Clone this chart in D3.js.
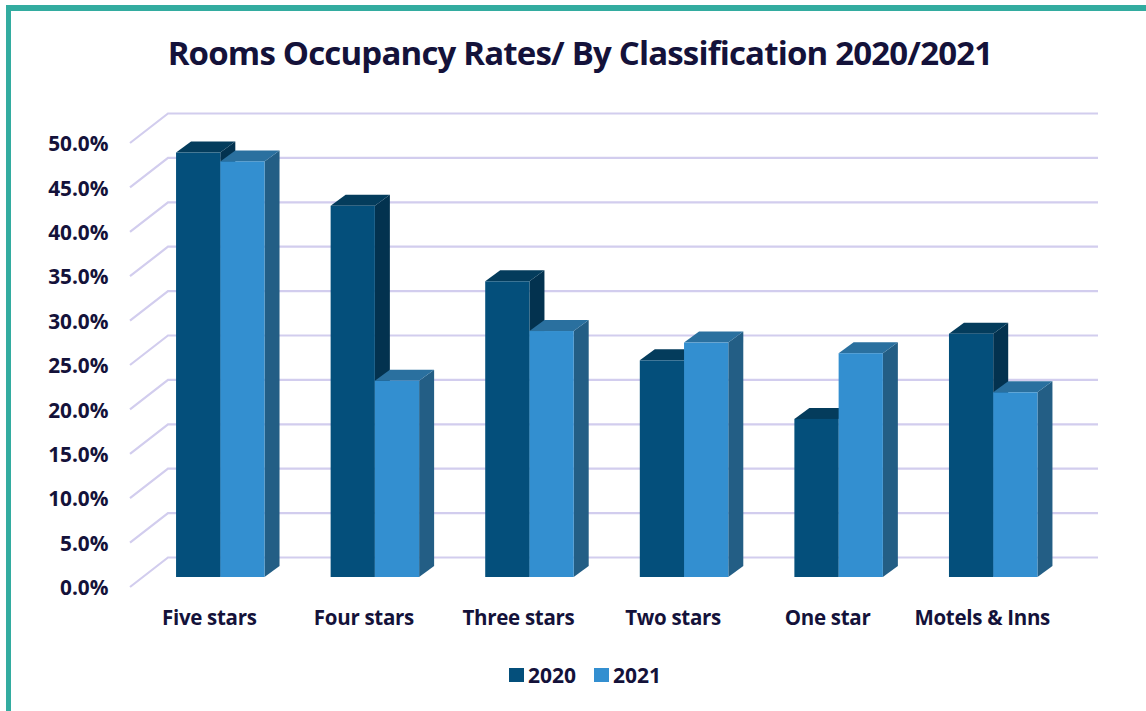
<!DOCTYPE html>
<html>
<head>
<meta charset="utf-8">
<script src="https://cdn.jsdelivr.net/npm/d3@7"></script>
<style>
  html, body { margin: 0; padding: 0; background: #fff; overflow: hidden; }
  text { font-family: "Open Sans", sans-serif; font-weight: 700; fill: #14123a; }
</style>
</head>
<body>
<div id="chart"></div>
<script>
const categories = ['Five stars', 'Four stars', 'Three stars', 'Two stars', 'One star', 'Motels & Inns']
const years = ['2020', '2021']
const values2020 = [47.8, 41.8, 33.3, 24.4, 17.8, 27.4]
const values2021 = [46.8, 22.1, 27.7, 26.4, 25.2, 20.8]
const yTicks = [0, 5, 10, 15, 20, 25, 30, 35, 40, 45, 50]

const width = 1146
const height = 711

const svg = d3
  .select('#chart')
  .append('svg')
  .attr('width', width)
  .attr('height', height)

// teal frame, top and left edges only
svg.append('rect').attr('x', 6).attr('y', 5).attr('width', width - 6).attr('height', 6).attr('fill', '#33aca0')
svg.append('rect').attr('x', 6).attr('y', 5).attr('width', 5).attr('height', height - 5).attr('fill', '#33aca0')

svg
  .append('text')
  .attr('x', 580)
  .attr('y', 65)
  .attr('text-anchor', 'middle')
  .style('font-size', '33px')
  .style('letter-spacing', '-0.82px')
  .text('Rooms Occupancy Rates/ By Classification 2020/2021')

const yPositionScale = d3.scaleLinear().domain([0, 50]).range([587, 143])
const xPositionScale = d3
  .scaleBand()
  .domain(categories)
  .range([143, 1070.5])
  .paddingInner(0.4276)
  .paddingOuter(0.2138)
const seriesScale = d3.scaleBand().domain(years).range([0, xPositionScale.bandwidth()])

// 3d offsets: wall behind the floor, bars in the middle of it
const wallDx = 38
const wallDy = -29.5
const barBaseDy = -10
const depthX = 15
const depthY = -11

const wallLeft = 130 + wallDx
const wallRight = 1098

const grid = svg.append('g').attr('class', 'grid')
grid
  .selectAll('path')
  .data(yTicks)
  .enter()
  .append('path')
  .attr('fill', 'none')
  .attr('stroke', '#d2cdee')
  .attr('stroke-width', 2.2)
  .attr('d', d => {
    const y = yPositionScale(d)
    return `M130,${y}L${wallLeft},${y + wallDy}L${wallRight},${y + wallDy}`
  })

const yAxis = d3
  .axisLeft(yPositionScale)
  .tickValues(yTicks)
  .tickFormat(d => d.toFixed(1) + '%')
  .tickSize(0)
  .tickPadding(0)

svg
  .append('g')
  .attr('class', 'axis y-axis')
  .attr('transform', 'translate(108.5,1)')
  .call(yAxis)
  .call(g => g.select('.domain').remove())
  .selectAll('text')
  .style('font-size', '20.8px')

const xAxis = d3.axisBottom(xPositionScale).tickSize(0).tickPadding(0)

svg
  .append('g')
  .attr('class', 'axis x-axis')
  .attr('transform', 'translate(-11,610)')
  .call(xAxis)
  .call(g => g.select('.domain').remove())
  .selectAll('text')
  .style('font-size', '20.5px')
  .style('letter-spacing', '-0.3px')

const palette = {
  2020: { front: '#044f7b', top: '#043c5c', side: '#03324f' },
  2021: { front: '#338fd0', top: '#2a709f', side: '#235e85' }
}

const seriesValues = { 2020: values2020, 2021: values2021 }
const base = yPositionScale(0) + barBaseDy

const groups = svg
  .selectAll('.bar-group')
  .data(categories)
  .enter()
  .append('g')
  .attr('class', 'bar-group')
  .attr('transform', d => `translate(${xPositionScale(d)},0)`)

years.forEach(year => {
  const w = seriesScale.bandwidth()
  const x0 = seriesScale(year)
  const colors = palette[year]
  const topY = (d, i) => yPositionScale(seriesValues[year][i]) + barBaseDy

  groups
    .append('path')
    .attr('fill', colors.side)
    .attr('d', (d, i) => {
      const t = topY(d, i)
      return `M${x0 + w},${t}L${x0 + w + depthX},${t + depthY}L${x0 + w + depthX},${base + depthY}L${x0 + w},${base}Z`
    })

  groups
    .append('path')
    .attr('fill', colors.top)
    .attr('d', (d, i) => {
      const t = topY(d, i)
      return `M${x0},${t}L${x0 + depthX},${t + depthY}L${x0 + w + depthX},${t + depthY}L${x0 + w},${t}Z`
    })

  groups
    .append('rect')
    .attr('fill', colors.front)
    .attr('x', x0)
    .attr('width', w)
    .attr('y', (d, i) => topY(d, i))
    .attr('height', (d, i) => base - topY(d, i))
})

const legend = svg
  .selectAll('.legend')
  .data(years)
  .enter()
  .append('g')
  .attr('class', 'legend')
  .attr('transform', (d, i) => `translate(${509 + i * 85},668)`)

legend
  .append('rect')
  .attr('width', 15)
  .attr('height', 14)
  .attr('fill', d => palette[d].front)

legend
  .append('text')
  .attr('x', 19)
  .attr('y', 14.5)
  .style('font-size', '21px')
  .text(d => d)
</script>
</body>
</html>
